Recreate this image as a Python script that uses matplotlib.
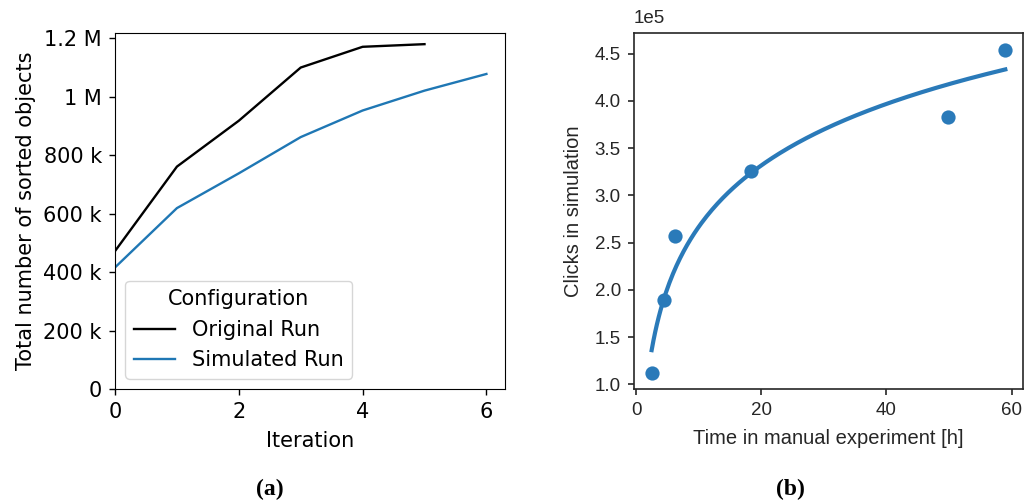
import numpy as np
import matplotlib
matplotlib.use("Agg")
import matplotlib.pyplot as plt
import matplotlib.ticker as mtick

# (a) sorted objects per iteration
iterations_orig = [0, 1, 2, 3, 4, 5]
original_run = [472e3, 761e3, 918e3, 1100e3, 1171e3, 1180e3]
iterations_sim = [0, 1, 2, 3, 4, 5, 6]
simulated_run = [416e3, 619e3, 738e3, 862e3, 953e3, 1021e3, 1078e3]

# (b) manual time vs. simulated clicks
manual_hours = [2.5, 4.4, 6.2, 18.3, 49.9, 59.0]
sim_clicks = [1.12e5, 1.89e5, 2.57e5, 3.26e5, 3.835e5, 4.54e5]

fig = plt.figure(figsize=(10.27, 5), dpi=100)

# ---- left panel ----
fs = 15
ax1 = fig.add_axes([0.112, 0.222, 0.3797, 0.712])
ax1.plot(iterations_orig, original_run, color="black", lw=1.7, label="Original Run")
ax1.plot(iterations_sim, simulated_run, color="#1f77b4", lw=1.7, label="Simulated Run")
ax1.set_ylim(bottom=0)
ax1.set_xlim(left=0)
ax1.yaxis.set_major_formatter(mtick.EngFormatter())
ax1.set_xticks([0, 2, 4, 6])
ax1.tick_params(labelsize=fs, length=4.5, pad=5, width=1)
ax1.set_xlabel("Iteration", fontsize=fs, labelpad=6)
ax1.set_ylabel("Total number of sorted objects", fontsize=fs, labelpad=5)
ax1.legend(title="Configuration", loc="lower left", fontsize=fs, title_fontsize=fs)

# ---- right panel ----
gray = "#262626"
ax2 = fig.add_axes([0.6173, 0.222, 0.3788, 0.712])
ax2.scatter(manual_hours, sim_clicks, s=105, color="#2a7ab9", zorder=3, linewidths=0)
b, a = np.polyfit(np.log(manual_hours), sim_clicks, 1)
xs = np.linspace(min(manual_hours), max(manual_hours), 200)
ax2.plot(xs, a + b * np.log(xs), color="#2a7ab9", lw=3)
ax2.set_ylim(0.95e5, 4.72e5)
ax2.set_xticks([0, 20, 40, 60])
ax2.ticklabel_format(axis="y", style="sci", scilimits=(0, 0))
ax2.yaxis.get_offset_text().set_visible(False)
ax2.text(0.0, 1.018, "1e5", transform=ax2.transAxes, fontsize=13.5, color=gray,
         family="Liberation Sans", ha="left", va="bottom")
for sp in ax2.spines.values():
    sp.set_color(gray)
    sp.set_linewidth(1.2)
ax2.tick_params(colors=gray, labelsize=13.5, length=4.5, width=1.2, pad=5)
for lbl in ax2.get_xticklabels() + ax2.get_yticklabels():
    lbl.set_family("Liberation Sans")
ax2.set_xlabel("Time in manual experiment [h]", fontsize=14.5, color=gray,
               family="Liberation Sans", labelpad=7)
ax2.set_ylabel("Clicks in simulation", fontsize=14.5, color=gray,
               family="Liberation Sans", labelpad=8)

# captions
fig.text(0.263, 0.022, "(a)", fontsize=17, family="Liberation Serif", weight="bold", ha="center", va="center")
fig.text(0.7695, 0.022, "(b)", fontsize=17, family="Liberation Serif", weight="bold", ha="center", va="center")

fig.savefig("out.png", dpi=100)
